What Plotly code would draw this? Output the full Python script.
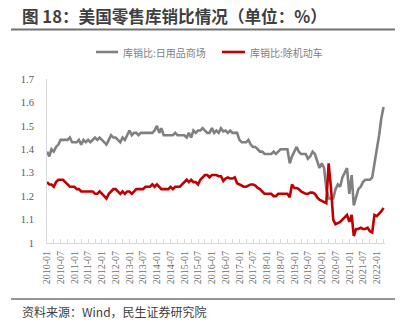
import pandas as pd
import plotly.graph_objects as go

# Monthly inventory/sales ratios, 2010-01 .. 2022-04
months = pd.date_range("2010-01-01", periods=148, freq="MS")

general_merch = [
    1.39, 1.37, 1.40, 1.39, 1.41, 1.42, 1.44, 1.44, 1.44, 1.44, 1.45, 1.43,  # 2010
    1.43, 1.43, 1.44, 1.42, 1.44, 1.43, 1.44, 1.43, 1.44, 1.45, 1.44, 1.45,  # 2011
    1.44, 1.43, 1.42, 1.44, 1.46, 1.45, 1.45, 1.44, 1.43, 1.45, 1.44, 1.46,  # 2012
    1.48, 1.46, 1.47, 1.47, 1.46, 1.47, 1.47, 1.47, 1.47, 1.47, 1.47, 1.48,  # 2013
    1.50, 1.47, 1.49, 1.46, 1.46, 1.46, 1.46, 1.46, 1.47, 1.46, 1.46, 1.46,  # 2014
    1.46, 1.45, 1.47, 1.45, 1.48, 1.47, 1.48, 1.48, 1.49, 1.48, 1.47, 1.47,  # 2015
    1.49, 1.47, 1.48, 1.47, 1.49, 1.476, 1.48, 1.47, 1.48, 1.47, 1.47, 1.47,  # 2016
    1.44, 1.43, 1.43, 1.43, 1.44, 1.42, 1.41, 1.41, 1.40, 1.39, 1.39, 1.38,  # 2017
    1.38, 1.38, 1.38, 1.39, 1.38, 1.39, 1.40, 1.40, 1.40, 1.40, 1.34, 1.37,  # 2018
    1.39, 1.41, 1.39, 1.38, 1.38, 1.38, 1.36, 1.37, 1.39, 1.38, 1.35, 1.32,  # 2019
    1.34, 1.32, 1.23, 1.19, 1.19, 1.19, 1.23, 1.25, 1.24, 1.28, 1.30, 1.32,  # 2020
    1.21, 1.29, 1.16, 1.20, 1.23, 1.24, 1.26, 1.27, 1.27, 1.27, 1.28, 1.35,  # 2021
    1.40, 1.46, 1.53, 1.58,                                                  # 2022
]

ex_auto = [
    1.26, 1.25, 1.25, 1.24, 1.26, 1.27, 1.27, 1.27, 1.26, 1.25, 1.24, 1.24,  # 2010
    1.24, 1.23, 1.23, 1.22, 1.22, 1.22, 1.22, 1.22, 1.22, 1.21, 1.21, 1.22,  # 2011
    1.21, 1.20, 1.19, 1.21, 1.22, 1.23, 1.23, 1.22, 1.21, 1.22, 1.21, 1.22,  # 2012
    1.22, 1.21, 1.22, 1.23, 1.23, 1.23, 1.23, 1.24, 1.24, 1.24, 1.25, 1.24,  # 2013
    1.25, 1.24, 1.23, 1.23, 1.23, 1.23, 1.24, 1.23, 1.24, 1.24, 1.24, 1.25,  # 2014
    1.26, 1.27, 1.26, 1.27, 1.26, 1.26, 1.25, 1.27, 1.28, 1.29, 1.29, 1.28,  # 2015
    1.29, 1.29, 1.29, 1.285, 1.285, 1.265, 1.275, 1.28, 1.275, 1.275, 1.28, 1.255,  # 2016
    1.25, 1.245, 1.24, 1.24, 1.245, 1.25, 1.25, 1.245, 1.235, 1.23, 1.22, 1.21,  # 2017
    1.21, 1.21, 1.21, 1.20, 1.20, 1.21, 1.21, 1.21, 1.21, 1.21, 1.195, 1.25,  # 2018
    1.235, 1.235, 1.23, 1.22, 1.215, 1.21, 1.21, 1.215, 1.215, 1.21, 1.195, 1.185,  # 2019
    1.18, 1.175, 1.17, 1.34, 1.24, 1.10, 1.08, 1.085, 1.09, 1.10, 1.11, 1.12,  # 2020
    1.09, 1.12, 1.03, 1.06, 1.06, 1.065, 1.06, 1.06, 1.065, 1.05, 1.045, 1.12,  # 2021
    1.115, 1.125, 1.135, 1.15,                                               # 2022
]

series_names = ["库销比:日用品商场", "库销比:除机动车"]
series_colors = ["#808080", "#c00000"]

x_tick_labels = [f"{y}-{m:02d}" for y in range(2010, 2023) for m in (1, 7)][:25]
x_tick_vals = [pd.Timestamp(lbl + "-01") for lbl in x_tick_labels]
y_tick_vals = [1.0, 1.1, 1.2, 1.3, 1.4, 1.5, 1.6, 1.7]
y_tick_labels = ["1", "1.1", "1.2", "1.3", "1.4", "1.5", "1.6", "1.7"]

title_text = "图 18：美国零售库销比情况（单位：%）"
source_text = "资料来源：Wind，民生证券研究院"

W_PX, H_PX = 413, 327
L, R, T, B = 47, 385, 79, 243


def px(x):
    return (x - L) / (R - L)


def py(y):
    return (B - y) / (B - T)


fig = go.Figure()
for vals, name, color in zip([general_merch, ex_auto], series_names, series_colors):
    fig.add_trace(go.Scatter(
        x=months, y=vals, mode="lines", name=name,
        line=dict(color=color, width=2.6), showlegend=False,
    ))

cjk = "Noto Sans CJK SC"
axis_color = "#d9d9d9"

fig.update_layout(
    width=W_PX, height=H_PX,
    margin=dict(l=L, r=W_PX - R, t=T, b=H_PX - B, pad=0),
    paper_bgcolor="white", plot_bgcolor="white",
    xaxis=dict(
        type="date", range=["2010-01-01", "2022-04-20"],
        tickvals=x_tick_vals, ticktext=x_tick_labels, tickangle=-90,
        showgrid=False, zeroline=False,
        showline=True, linecolor=axis_color, linewidth=1,
        ticks="inside", ticklen=4, tickcolor=axis_color,
        minor=dict(dtick="M3", tick0="2010-01-01", ticks="inside",
                   ticklen=4, tickcolor=axis_color, showgrid=False),
        tickfont=dict(family="Liberation Serif", size=10, color="#6f6f6f"),
        ticklabelstandoff=3,
    ),
    yaxis=dict(
        range=[1.0, 1.7], tickvals=y_tick_vals, ticktext=y_tick_labels,
        showgrid=False, zeroline=False,
        showline=True, linecolor=axis_color, linewidth=1,
        ticks="", ticklabelstandoff=10,
        tickfont=dict(family="Liberation Serif", size=10.5, color="#595959"),
    ),
)

# title and rules
fig.add_annotation(
    x=px(20), y=py(15.5), xref="paper", yref="paper",
    xanchor="left", yanchor="middle", showarrow=False,
    text=f"<b>{title_text}</b>",
    font=dict(family=cjk, size=16.6, color="#3f3f3f"),
)
fig.add_shape(type="line", xref="paper", yref="paper",
              x0=px(11), x1=px(395), y0=py(29.5), y1=py(29.5),
              line=dict(color="#737373", width=2))
fig.add_shape(type="line", xref="paper", yref="paper",
              x0=px(11), x1=px(395), y0=py(299), y1=py(299),
              line=dict(color="#737373", width=1.6))
fig.add_annotation(
    x=px(20), y=py(311), xref="paper", yref="paper",
    xanchor="left", yanchor="middle", showarrow=False,
    text=source_text,
    font=dict(family=cjk, size=12, color="#404040"),
)

# legend keys
legend_items = [(96, 118, 120.5), (222, 245, 247.5)]
for (x0, x1, tx), name, color in zip(legend_items, series_names, series_colors):
    fig.add_shape(type="line", xref="paper", yref="paper",
                  x0=px(x0), x1=px(x1), y0=py(52), y1=py(52),
                  line=dict(color=color, width=2.6))
    fig.add_annotation(
        x=px(tx), y=py(52), xref="paper", yref="paper",
        xanchor="left", yanchor="middle", showarrow=False,
        text=name, font=dict(family=cjk, size=10, color="#7f7f7f"),
    )

fig.write_html("out.html")
